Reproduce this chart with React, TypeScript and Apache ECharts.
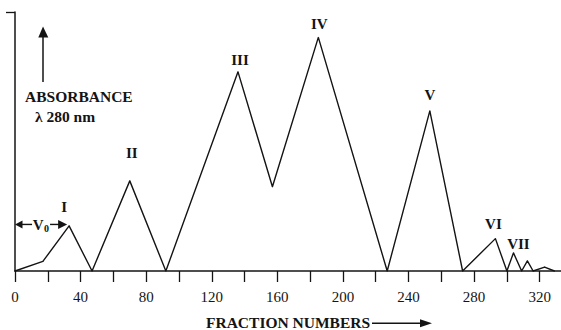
import React, { useEffect, useRef } from "react";
import * as echarts from "echarts";

// Elution profile: fraction number vs absorbance at 280 nm (relative units)
const fractions = [0, 17, 33, 47, 70, 92, 136, 157, 185, 227, 253, 273, 293, 300, 304, 309, 312.5, 316, 323, 329];
const absorbance = [0, 0.037, 0.174, 0, 0.348, 0, 0.769, 0.325, 0.902, 0, 0.618, 0, 0.125, 0, 0.07, 0, 0.039, 0, 0.015, 0];

const peakNames = ["I", "II", "III", "IV", "V", "VI", "VII"];
const peakIndex = [2, 4, 6, 8, 10, 12, 14];

const tickValues = [0, 20, 40, 60, 80, 100, 120, 140, 160, 180, 200, 220, 240, 260, 280, 300, 320];
const labelValues = [0, 40, 80, 120, 160, 200, 240, 280, 320];

const SERIF = '"Liberation Serif", "Times New Roman", serif';
const INK = "#141414";

// per-peak label placement: [gap above vertex, horizontal shift]
const peakLabelPlacement = [
  [11, -5],
  [20, 2],
  [4, 2],
  [5, 1],
  [8, 0],
  [7, -2],
  [1, 5],
];

export default function App() {
  const ref = useRef<HTMLDivElement>(null);

  useEffect(() => {
    if (!ref.current) return;
    const chart = echarts.init(ref.current, null, { renderer: "svg" });

    const seriesData = fractions.map((f, i) => {
      const k = peakIndex.indexOf(i);
      if (k < 0) return [f, absorbance[i]];
      return {
        value: [f, absorbance[i]],
        label: {
          show: true,
          formatter: peakNames[k],
          distance: peakLabelPlacement[k][0],
          offset: [peakLabelPlacement[k][1], 0],
        },
      };
    });

    chart.setOption({
      animation: false,
      backgroundColor: "#ffffff",
      grid: { left: 15, right: 0, top: 12, bottom: 59, containLabel: false },
      xAxis: {
        type: "value",
        min: 0,
        max: 333,
        axisLine: { show: true, lineStyle: { color: INK, width: 1.5 } },
        axisTick: {
          show: true,
          length: 11,
          customValues: tickValues,
          lineStyle: { color: INK, width: 1.3 },
        },
        axisLabel: {
          show: true,
          customValues: labelValues,
          margin: 18,
          fontFamily: SERIF,
          fontSize: 15,
          color: INK,
        },
        splitLine: { show: false },
      },
      yAxis: {
        type: "value",
        min: 0,
        max: 1,
        axisLine: { show: true, lineStyle: { color: INK, width: 1.5 } },
        axisTick: {
          show: true,
          length: 9,
          customValues: [1],
          lineStyle: { color: INK, width: 1.3 },
        },
        axisLabel: { show: false },
        splitLine: { show: false },
      },
      series: [
        {
          type: "line",
          data: seriesData,
          symbol: "circle",
          symbolSize: 1,
          itemStyle: { color: INK },
          lineStyle: { color: INK, width: 1.4 },
          label: {
            show: false,
            position: "top",
            fontFamily: SERIF,
            fontWeight: "bold",
            fontSize: 15,
            color: INK,
          },
          emphasis: { disabled: true },
          silent: true,
        },
      ],
    });

    // annotations anchored to the axis origin and the first peak
    const origin = chart.convertToPixel({ gridIndex: 0 }, [0, 0]) as number[];
    const p1 = chart.convertToPixel({ gridIndex: 0 }, [fractions[2], absorbance[2]]) as number[];
    const ax = origin[0];
    const vy = p1[1] - 1.5;
    const rightTip = p1[0] - 2;
    const mid = (ax + rightTip) / 2;

    const bold = { fontFamily: SERIF, fontWeight: "bold", fill: INK };

    chart.setOption({
      graphic: [
        // vertical arrow beside the absorbance caption
        { type: "line", shape: { x1: 43, y1: 82, x2: 43, y2: 36 }, style: { stroke: INK, lineWidth: 1.5 } },
        { type: "polygon", shape: { points: [[38.3, 37.5], [48.3, 37.5], [43, 26.5]] }, style: { fill: INK } },
        { type: "text", x: 25, y: 96, style: { ...bold, text: "ABSORBANCE", fontSize: 15.5, verticalAlign: "middle" } },
        { type: "text", x: 35, y: 116, style: { ...bold, text: "λ 280 nm", fontSize: 15.5, verticalAlign: "middle" } },

        // void volume marker
        { type: "polygon", shape: { points: [[ax, vy], [ax + 7.5, vy - 4], [ax + 7.5, vy + 4]] }, style: { fill: INK } },
        { type: "line", shape: { x1: ax + 7, y1: vy, x2: mid - 9, y2: vy }, style: { stroke: INK, lineWidth: 1.4 } },
        { type: "text", x: mid - 3, y: vy + 1, style: { ...bold, text: "V", fontSize: 15, textAlign: "center", verticalAlign: "middle" } },
        { type: "text", x: mid + 5.5, y: vy + 4, style: { ...bold, text: "0", fontSize: 10, textAlign: "center", verticalAlign: "middle" } },
        { type: "line", shape: { x1: mid + 9, y1: vy, x2: rightTip - 8, y2: vy }, style: { stroke: INK, lineWidth: 1.4 } },
        { type: "polygon", shape: { points: [[rightTip, vy], [rightTip - 9, vy - 4.5], [rightTip - 9, vy + 4.5]] }, style: { fill: INK } },

        // x-axis caption with arrow
        { type: "text", x: 206, y: 322.5, style: { ...bold, text: "FRACTION NUMBERS", fontSize: 15.5, verticalAlign: "middle" } },
        { type: "line", shape: { x1: 372, y1: 323.3, x2: 422, y2: 323.3 }, style: { stroke: INK, lineWidth: 1.4 } },
        { type: "polygon", shape: { points: [[420, 319.3], [420, 327.3], [432, 323.3]] }, style: { fill: INK } },
      ],
    });

    return () => chart.dispose();
  }, []);

  return <div ref={ref} style={{ width: 561, height: 330, position: "absolute", left: 0, top: 0 }} />;
}
